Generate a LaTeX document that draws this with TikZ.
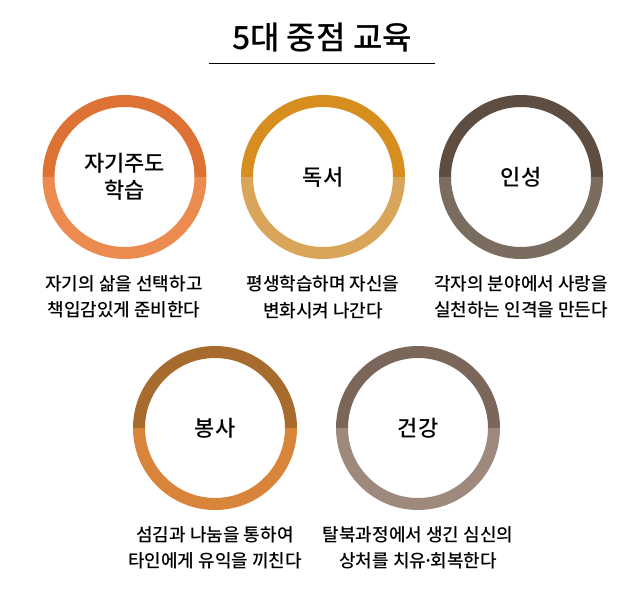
\documentclass[tikz,border=0pt]{standalone}
\usepackage{fontspec}
\setmainfont{Noto Sans CJK KR}[UprightFont=* Medium]
\usetikzlibrary{calc}
\definecolor{ctopA}{HTML}{DE7234}\definecolor{cbotA}{HTML}{EC8B4F}
\definecolor{ctopB}{HTML}{D68E1F}\definecolor{cbotB}{HTML}{D9A55A}
\definecolor{ctopC}{HTML}{5E4E42}\definecolor{cbotC}{HTML}{7B6C60}
\definecolor{ctopD}{HTML}{A86B2E}\definecolor{cbotD}{HTML}{D8843A}
\definecolor{ctopE}{HTML}{7A675A}\definecolor{cbotE}{HTML}{9E8A7D}
\tikzset{
  ringpart/.style={line width=12pt},
  ctext/.style={font=\fontsize{22}{27}\selectfont, align=center, text=black},
  captext/.style={font=\fontsize{18}{26.5}\selectfont, align=center, text=black},
  titletext/.style={font=\fontsize{32}{36}\selectfont, text=black}
}
\newcommand{\myring}[3]{%
  \draw[ringpart, draw=#2] (#1) ++(76,0) arc[start angle=360, end angle=180, radius=76];
  \draw[ringpart, draw=#3] (#1) ++(-76,0) arc[start angle=180, end angle=0, radius=76];
}
\begin{document}
\begin{tikzpicture}[x=1pt,y=-1pt]
\useasboundingbox (0,0) rectangle (640,609);
\node[titletext] (title) at (322,38) {5대 중점 교육};
\coordinate (ll) at (209,63);
\coordinate (lr) at (435,63);
\draw[line width=0.8pt, black] (ll) -- (lr);

\coordinate (c1) at (124.5,177);
\coordinate (c2) at (323,177);
\coordinate (c3) at (521,177);
\coordinate (c4) at (215,428);
\coordinate (c5) at (418,428);

\myring{c1}{ctopA}{cbotA}
\myring{c2}{ctopB}{cbotB}
\myring{c3}{ctopC}{cbotC}
\myring{c4}{ctopD}{cbotD}
\myring{c5}{ctopE}{cbotE}

\node[ctext] (t1) at (c1) {자기주도\\학습};
\node[ctext] (t2) at (c2) {독서};
\node[ctext] (t3) at (c3) {인성};
\node[ctext] (t4) at (c4) {봉사};
\node[ctext] (t5) at (c5) {건강};

\node[captext] (p1) at (124,297) {자기의 삶을 선택하고\\책입감있게 준비한다};
\node[captext] (p2) at (323,297) {평생학습하며 자신을\\변화시켜 나간다};
\node[captext] (p3) at (521,297) {각자의 분야에서 사랑을\\실천하는 인격을 만든다};
\node[captext] (p4) at (215,548) {섬김과 나눔을 통하여\\타인에게 유익을 끼친다};
\node[captext] (p5) at (418,548) {탈북과정에서 생긴 심신의\\상처를 치유\kern-3pt·\kern-3pt회복한다};
\end{tikzpicture}
\end{document}
